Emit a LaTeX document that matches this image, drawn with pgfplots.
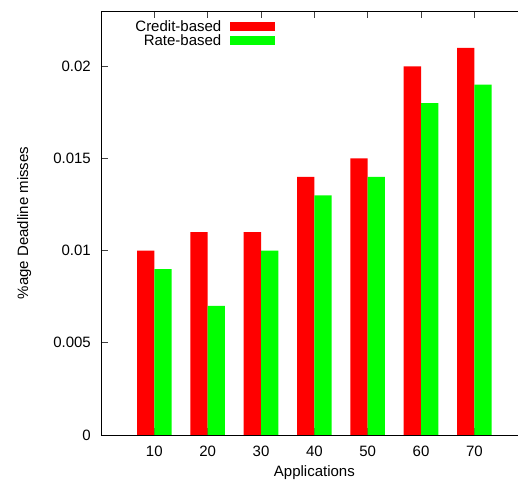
\documentclass[border=0pt]{standalone}
\usepackage{fontspec}
\setmainfont{Liberation Sans}
\usepackage{pgfplots}
\pgfplotsset{compat=1.18}
\begin{document}
\begin{tikzpicture}
\begin{axis}[
  at={(0,0)}, anchor=south west,
  scale only axis, width=426.7bp, height=424bp,
  xmin=0, xmax=80, ymin=0, ymax=0.023,
  ybar,
  xtick={10,20,30,40,50,60,70},
  xticklabels={10,20,30,40,50,60,70},
  ytick={0,0.005,0.01,0.015,0.02},
  yticklabels={0,0.005,0.01,0.015,0.02},
  ytick pos=left,
  tick align=inside,
  major tick length=7bp,
  axis line style={line width=0.8bp, black},
  every tick/.style={line width=0.8bp, black!75},
  font=\fontsize{15bp}{18bp}\selectfont,
  /pgf/number format/assume math mode=true,
  yticklabel style={anchor=east, inner sep=0pt, xshift=-10bp},
  xticklabel style={anchor=north, inner sep=0pt, yshift=-10.5bp},
  every axis y label/.style={at={(axis description cs:-0.18,0.5)}, rotate=90, anchor=center},
  every axis x label/.style={at={(axis description cs:0.5,-0.0896)}, anchor=center},
  ylabel={\%age Deadline misses},
  xlabel={Applications},
  legend plot pos=right,
  legend cell align=right,
  legend image code/.code={\fill[#1] (0bp,-4.5bp) rectangle (45bp,4.5bp);},
  legend style={draw=none, fill=none, inner sep=0pt, outer sep=0pt,
    at={(0.4085,0.978)}, anchor=north east, row sep=2bp, column sep=9bp,
    nodes={inner sep=0pt}},
]
\addplot[fill=red, draw=none, bar width=17.3bp, bar shift=-8.65bp]
  coordinates {(10,0.010) (20,0.011) (30,0.011) (40,0.014) (50,0.015) (60,0.020) (70,0.021)};
\addlegendentry{Credit-based}
\addplot[fill=green, draw=none, bar width=17.3bp, bar shift=8.65bp]
  coordinates {(10,0.009) (20,0.007) (30,0.010) (40,0.013) (50,0.014) (60,0.018) (70,0.019)};
\addlegendentry{Rate-based}
\end{axis}
\pgfresetboundingbox
\useasboundingbox (-101bp,-50bp) rectangle (417bp,435bp);
\end{tikzpicture}
\end{document}
